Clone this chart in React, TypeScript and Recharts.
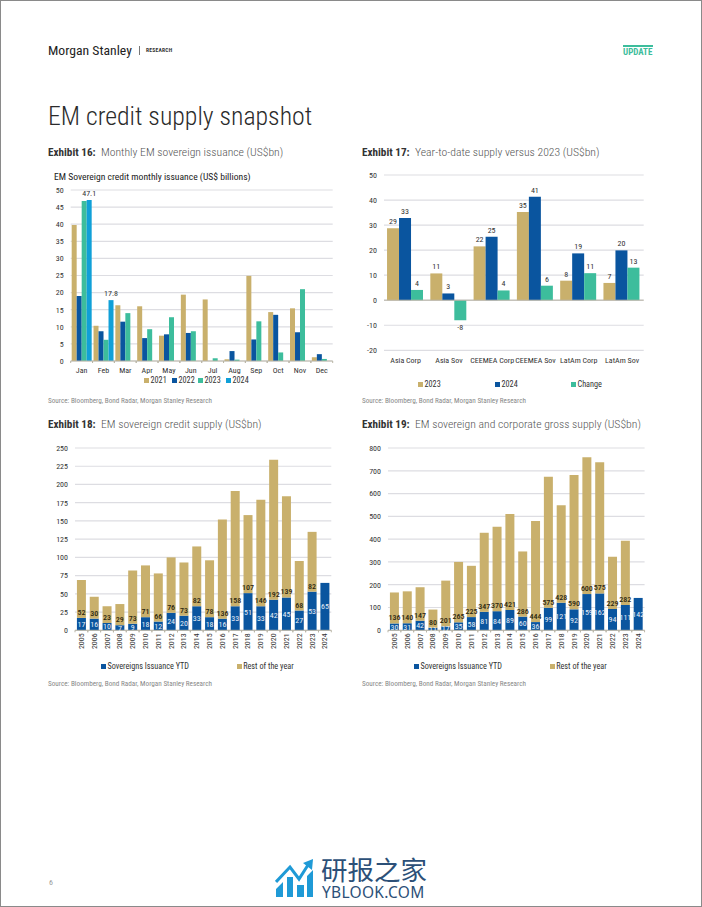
import { BarChart, Bar, XAxis, YAxis, CartesianGrid, LabelList, Legend, ReferenceLine } from 'recharts';

const months = ['Jan', 'Feb', 'Mar', 'Apr', 'May', 'Jun', 'Jul', 'Aug', 'Sep', 'Oct', 'Nov', 'Dec'];
const issuance2021 = [39.8, 10.3, 16.3, 16, 7.4, 19.4, 18, 0.5, 24.9, 14.3, 15.4, 1.1];
const issuance2022 = [19, 8.7, 11.5, 6.7, 7.8, 8.2, 0, 2.9, 6.3, 13.5, 8.4, 2];
const issuance2023 = [46.8, 6.2, 14, 9.3, 12.8, 8.7, 0.8, 0.4, 11.6, 2.5, 21, 0.6];
const issuance2024 = [47.1, 17.8, null, null, null, null, null, null, null, null, null, null];
const monthlyTicks = [0, 5, 10, 15, 20, 25, 30, 35, 40, 45, 50];

const regions = ['Asia Corp', 'Asia Sov', 'CEEMEA Corp', 'CEEMEA Sov', 'LatAm Corp', 'LatAm Sov'];
const ytd2023 = [28.7, 10.7, 21.5, 35.2, 7.8, 6.9];
const ytd2024 = [32.8, 2.7, 25.3, 41.3, 18.7, 19.9];
const ytdChange = [4.1, -8, 3.9, 5.8, 10.8, 13];
const ytdTicks = [-20, -10, 0, 10, 20, 30, 40, 50];

const years = ['2005', '2006', '2007', '2008', '2009', '2010', '2011', '2012', '2013', '2014', '2015', '2016', '2017', '2018', '2019', '2020', '2021', '2022', '2023', '2024'];
const sovYtd = [17, 16, 10, 7, 9, 18, 12, 24, 20, 33, 18, 16, 33, 51, 33, 42, 45, 27, 53, 65];
const sovRest = [52, 30, 23, 29, 73, 71, 66, 76, 73, 82, 78, 136, 158, 107, 146, 192, 139, 68, 82, null];
const sovTicks = [0, 25, 50, 75, 100, 125, 150, 175, 200, 225, 250];

const grossYtd = [30, 31, 42, 11, 17, 35, 58, 81, 84, 89, 60, 36, 99, 121, 92, 159, 162, 94, 111, 142];
const grossRest = [136, 140, 147, 80, 201, 265, 225, 347, 370, 421, 286, 444, 575, 428, 590, 600, 575, 229, 282, null];
const grossTicks = [0, 100, 200, 300, 400, 500, 600, 700, 800];

const monthlyRows = months.map((month, i) => ({ month, a: issuance2021[i], b: issuance2022[i], c: issuance2023[i], d: issuance2024[i] }));
const ytdRows = regions.map((region, i) => ({ region, a: ytd2023[i], b: ytd2024[i], c: ytdChange[i] }));
const sovRows = years.map((year, i) => ({ year, ytd: sovYtd[i], rest: sovRest[i] }));
const grossRows = years.map((year, i) => ({ year, ytd: grossYtd[i], rest: grossRest[i] }));

const GOLD = '#c9b06c';
const BLUE = '#0a559f';
const TEAL = '#3dbd9c';
const CYAN = '#10a0d8';
const GRID = '#dddde2';
const AXIS = '#b9b5a6';
const FONT = 'Roboto, sans-serif';
const TICK = { fontSize: 8, fill: '#333', fontFamily: FONT };

const BandTick = ({ x, y, payload, band, gap, rotated, noMarks }: any) => (
    <g>
        {!noMarks && <line x1={x - band / 2} x2={x - band / 2} y1={y} y2={y + 2} stroke={AXIS} />}
        {!noMarks && <line x1={x + band / 2} x2={x + band / 2} y1={y} y2={y + 2} stroke={AXIS} />}
        {rotated ? (
            <text x={x} y={y + gap} transform={`rotate(-90 ${x} ${y + gap})`} textAnchor="end" dominantBaseline="central" {...TICK}>
                {payload.value}
            </text>
        ) : (
            <text x={x} y={y + gap} textAnchor="middle" dominantBaseline="central" {...TICK}>
                {payload.value}
            </text>
        )}
    </g>
);

const SpacedLegend = ({ payload, offsets }: any) => (
    <div style={{ position: 'relative', height: 10 }}>
        {(payload || []).map((item: any, i: number) => (
            <span key={item.value} style={{ position: 'absolute', left: offsets[i], top: 0, whiteSpace: 'nowrap', fontSize: 8.2, lineHeight: '10px', color: '#333', fontFamily: FONT }}>
                <span style={{ display: 'inline-block', width: 5, height: 5, marginRight: 1.5, background: item.color, verticalAlign: 0 }} />
                {item.value}
            </span>
        ))}
    </div>
);

const legendProps = (top: number, offsets: number[]) => ({
    layout: 'horizontal' as const,
    align: 'center' as const,
    verticalAlign: 'middle' as const,
    itemSorter: null,
    wrapperStyle: { top, left: 0, width: '100%', margin: 0 },
    content: (props: any) => <SpacedLegend {...props} offsets={offsets} />,
});

const roundLabel = (v: any) => (v === null || v === undefined ? '' : Math.round(v));

const Text = ({ left, top, style, children }: any) => (
    <div style={{ position: 'absolute', left, top, whiteSpace: 'nowrap', lineHeight: 1, fontFamily: FONT, ...style }}>{children}</div>
);

const ExhibitTitle = ({ left, top, label, title, titleLeft }: any) => (
    <>
        <Text left={left} top={top} style={{ fontWeight: 700, fontSize: 11.2, color: '#333' }}>{label}</Text>
        <Text left={titleLeft} top={top - 0.5} style={{ fontSize: 11.7, fontWeight: 300, color: '#555' }}>{title}</Text>
    </>
);

const SOURCE = 'Source: Bloomberg, Bond Radar, Morgan Stanley Research';
const sourceStyle = { fontSize: 7.2, color: '#888' };

const StackedChart = ({ left, width, rows, ticks, max, legendOffsets }: any) => (
    <div style={{ position: 'absolute', left, top: 438 }}>
        <BarChart width={width} height={240} data={rows} margin={{ top: 10, right: 8, bottom: 27.7, left: 0 }} barCategoryGap="15%">
            <CartesianGrid vertical={false} stroke={GRID} strokeWidth={1.2} />
            <XAxis dataKey="year" interval={0} tickSize={0} tickMargin={0} stroke={AXIS} height={20}
                tick={<BandTick band={12.8} gap={3} rotated />} />
            <YAxis width={30} domain={[0, max]} ticks={ticks} interval={0} axisLine={false} tickLine={false} tickSize={0} tickMargin={7} tick={TICK} />
            <Legend {...legendProps(222.7, legendOffsets)} />
            <Bar dataKey="ytd" name="Sovereigns Issuance YTD" stackId="s" fill={BLUE} isAnimationActive={false}>
                <LabelList dataKey="ytd" position="center" fill="#e8eef6" fontSize={8} fontFamily={FONT} />
            </Bar>
            <Bar dataKey="rest" name="Rest of the year" stackId="s" fill={GOLD} isAnimationActive={false}>
                <LabelList dataKey="rest" position="insideBottom" offset={3} fill="#2b2610" fontSize={8} fontWeight={500} fontFamily={FONT} />
            </Bar>
        </BarChart>
    </div>
);

export default function App() {
    return (
        <div style={{ position: 'absolute', left: 0, top: 0, width: 702, height: 907, boxSizing: 'border-box', border: '1px solid #8a8a8a', background: '#fff', overflow: 'hidden', fontStretch: '75%' }}>
            <div style={{ position: 'absolute', left: -1, top: -1, width: 702, height: 907 }}>
                <Text left={48} top={43.5} style={{ fontSize: 13.7, color: '#222' }}>Morgan Stanley</Text>
                <div style={{ position: 'absolute', left: 139, top: 46, width: 1, height: 9, background: '#777' }} />
                <Text left={146} top={48} style={{ fontWeight: 700, fontSize: 5.6, letterSpacing: 0.2, color: '#333' }}>RESEARCH</Text>
                <div style={{ position: 'absolute', left: 623, top: 45, width: 30, height: 2, background: TEAL }} />
                <Text left={623} top={47.5} style={{ fontWeight: 700, fontSize: 9, color: TEAL }}>UPDATE</Text>
                <Text left={48} top={104} style={{ fontWeight: 300, fontSize: 25.8, color: '#2b2b2b' }}>EM credit supply snapshot</Text>

                <ExhibitTitle left={48} top={147} label="Exhibit 16:" title="Monthly EM sovereign issuance (US$bn)" titleLeft={101} />
                <ExhibitTitle left={362} top={147} label="Exhibit 17:" title="Year-to-date supply versus 2023 (US$bn)" titleLeft={415} />
                <ExhibitTitle left={48} top={419} label="Exhibit 18:" title="EM sovereign credit supply (US$bn)" titleLeft={101} />
                <ExhibitTitle left={362} top={419} label="Exhibit 19:" title="EM sovereign and corporate gross supply (US$bn)" titleLeft={415} />

                <Text left={54} top={172} style={{ fontSize: 9.6, color: '#222' }}>EM Sovereign credit monthly issuance (US$ billions)</Text>
                <div style={{ position: 'absolute', left: 40, top: 180 }}>
                    <BarChart width={300} height={210} data={monthlyRows} margin={{ top: 10, right: 7.3, bottom: 9, left: 0.7 }} barCategoryGap="4.5%" barGap={0}>
                        <CartesianGrid vertical={false} stroke={GRID} strokeWidth={1.2} />
                        <XAxis dataKey="month" interval={0} tickSize={0} tickMargin={0} stroke={AXIS} height={20}
                            tick={<BandTick band={21.83} gap={9} />} />
                        <YAxis width={30} domain={[0, 50]} ticks={monthlyTicks} interval={0} axisLine={false} tickLine={false} tickSize={0} tickMargin={7} tick={TICK} />
                        <Legend {...legendProps(194.5, [104, 132, 158, 186])} />
                        <Bar dataKey="a" name="2021" fill={GOLD} isAnimationActive={false} />
                        <Bar dataKey="b" name="2022" fill={BLUE} isAnimationActive={false} />
                        <Bar dataKey="c" name="2023" fill={TEAL} isAnimationActive={false} />
                        <Bar dataKey="d" name="2024" fill={CYAN} isAnimationActive={false}>
                            <LabelList dataKey="d" position="top" offset={4} fill="#333" fontSize={8} fontFamily={FONT} />
                        </Bar>
                    </BarChart>
                </div>
                <Text left={48} top={397} style={sourceStyle}>{SOURCE}</Text>

                <div style={{ position: 'absolute', left: 354, top: 165 }}>
                    <BarChart width={300} height={230} data={ytdRows} margin={{ top: 10, right: 10.3, bottom: 24.7, left: 0 }} barCategoryGap="7%" barGap={0}>
                        <CartesianGrid vertical={false} stroke={GRID} strokeWidth={1.2} />
                        <XAxis dataKey="region" interval={0} tickSize={0} tickMargin={0} axisLine={false} height={20}
                            tick={<BandTick band={43.3} gap={10} noMarks />} />
                        <YAxis width={30} domain={[-20, 50]} ticks={ytdTicks} interval={0} axisLine={false} tickLine={false} tickSize={0} tickMargin={7} tick={TICK} />
                        <ReferenceLine y={0} stroke={AXIS} />
                        <Legend {...legendProps(214, [64, 141, 217])} />
                        <Bar dataKey="a" name="2023" fill={GOLD} isAnimationActive={false}>
                            <LabelList dataKey="a" position="top" offset={4} formatter={roundLabel} fill="#333" fontSize={8} fontFamily={FONT} />
                        </Bar>
                        <Bar dataKey="b" name="2024" fill={BLUE} isAnimationActive={false}>
                            <LabelList dataKey="b" position="top" offset={4} formatter={roundLabel} fill="#333" fontSize={8} fontFamily={FONT} />
                        </Bar>
                        <Bar dataKey="c" name="Change" fill={TEAL} isAnimationActive={false}>
                            <LabelList dataKey="c" position="top" offset={4} formatter={roundLabel} fill="#333" fontSize={8} fontFamily={FONT} />
                        </Bar>
                    </BarChart>
                </div>
                <Text left={362} top={397} style={sourceStyle}>{SOURCE}</Text>

                <StackedChart left={44.7} width={294.3} rows={sovRows} ticks={sovTicks} max={250} legendOffsets={[56.3, 192]} />
                <Text left={48} top={680} style={sourceStyle}>{SOURCE}</Text>

                <StackedChart left={357.7} width={294.6} rows={grossRows} ticks={grossTicks} max={800} legendOffsets={[56.3, 192]} />
                <Text left={362} top={680} style={sourceStyle}>{SOURCE}</Text>

                <Text left={49} top={879} style={{ fontSize: 8, color: '#999' }}>6</Text>

                <svg style={{ position: 'absolute', left: 275, top: 858 }} width={40} height={40}>
                    <path d="M1 24 L15 9 L24 21 L33 7" fill="none" stroke="#1f9ad6" strokeWidth={3} />
                    <path d="M28 5 L38 1 L37 12 Z" fill="#1f9ad6" />
                    <path d="M1 39 L1 31 L8 24 L8 39 Z M12 39 L12 19 L18 19 L18 39 Z M22 39 L22 27 L29 27 L29 39 Z M32 39 L32 18 L38 12 L38 39 Z" fill="#1f9ad6" />
                </svg>
                <Text left={321} top={856} style={{ fontFamily: '"Noto Sans CJK SC", sans-serif', fontStretch: '100%', fontSize: 26.5, color: '#2c5078' }}>研报之家</Text>
                <Text left={322} top={885} style={{ fontFamily: '"Noto Sans", sans-serif', fontStretch: '100%', fontSize: 15.5, letterSpacing: 0.3, color: '#2c5078' }}>YBLOOK.COM</Text>
            </div>
        </div>
    );
}
